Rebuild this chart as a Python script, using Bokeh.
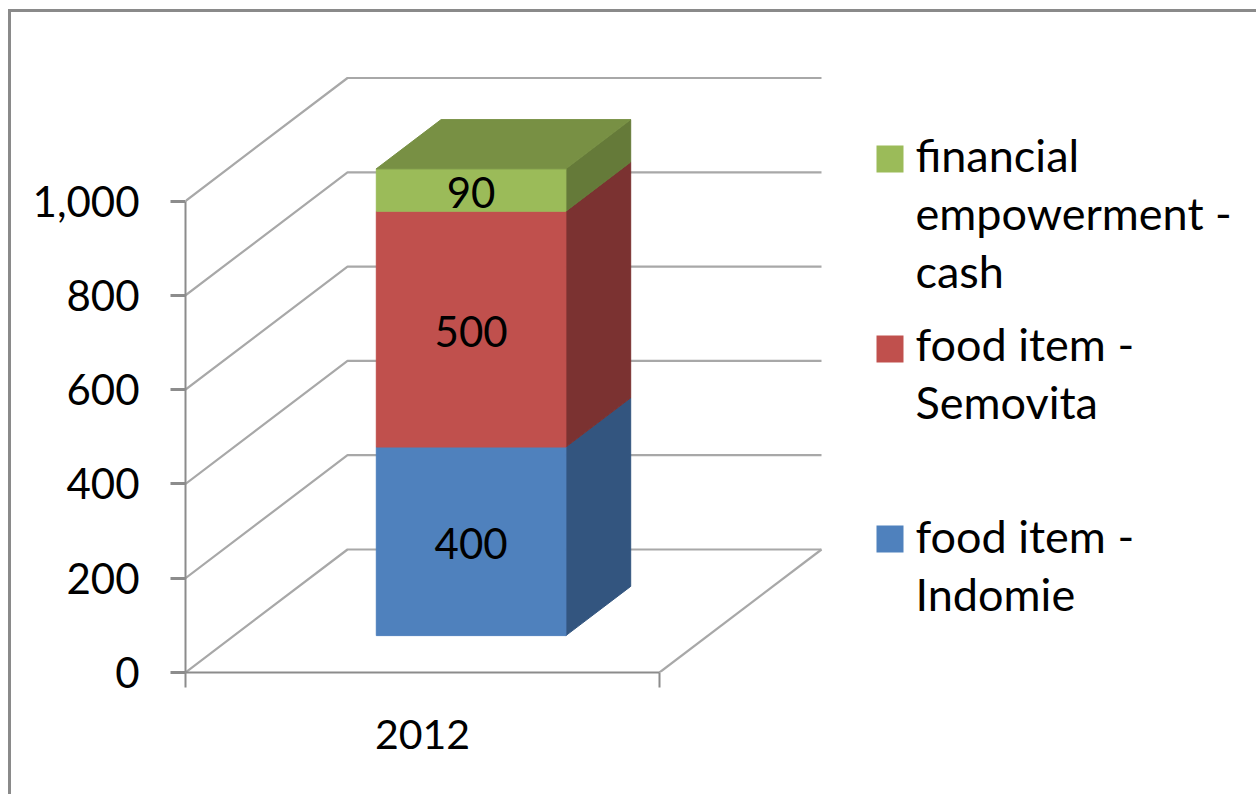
from bokeh.plotting import figure
from bokeh.embed import file_html
from bokeh.resources import INLINE
from bokeh.core.properties import value
from bokeh.models import FixedTicker, Range1d

# ---- data ----
categories = ["2012"]
series_names = ["food item - Indomie", "food item - Semovita", "financial empowerment - cash"]
series_values = [400, 500, 90]
front_colors = ["#4F81BD", "#C0504D", "#9BBB59"]
side_colors = ["#33557F", "#7B3231", "#657A39"]
top_color = "#789044"
y_ticks = [0, 200, 400, 600, 800, 1000]
y_labels = ["0", "200", "400", "600", "800", "1,000"]
legend_lines = [["financial", "empowerment -", "cash"], ["food item -", "Semovita"], ["food item -", "Indomie"]]

# ---- layout constants (page pixels) ----
X0, Y0 = 185, 672          # origin of the plot
UNIT_PX = 474              # px for one category
VAL_PX = 0.4715            # px per value unit
DEPTH_X_PX, DEPTH_Y_PX = 162, 123
W, H = 1256, 794
FONT = value("Lato")
FS = "42px"
LEG_FS = "45px"
AXIS = "#8C8C8C"
GRID = "#A8A8A8"
BORDER = "#8A8A8A"

# The outer chart border lies outside the plot frame, so it is the page element's own background.
border_css = (
    f"linear-gradient({BORDER},{BORDER}) 8px 9px / 3px {H - 9}px no-repeat, "
    f"linear-gradient({BORDER},{BORDER}) 8px 9px / {W - 8}px 3px no-repeat, white"
)

p = figure(width=W, height=H, output_backend="svg", toolbar_location=None,
           x_range=Range1d(0, (W - X0) / UNIT_PX), y_range=Range1d(0, Y0 / VAL_PX),
           min_border_left=X0, min_border_bottom=H - Y0, min_border_top=0, min_border_right=0,
           outline_line_color=None, background_fill_color=None, border_fill_color=None,
           styles={"background": border_css})
p.grid.visible = False

def px_x(px):
    return (px - X0) / UNIT_PX

def px_y(px):
    return (Y0 - px) / VAL_PX

def proj(x, v, d):
    """Oblique projection of (category x, value, depth 0..1) on the axes' data space."""
    return x + d * DEPTH_X_PX / UNIT_PX, v + d * DEPTH_Y_PX / VAL_PX

# axes
ax = p.yaxis[0]
ax.ticker = FixedTicker(ticks=y_ticks)
ax.major_label_overrides = {t: l for t, l in zip(y_ticks, y_labels)}
ax.bounds = (0, 1000)
ax.axis_line_color = AXIS
ax.axis_line_width = 2
ax.major_tick_line_color = AXIS
ax.major_tick_line_width = 3
ax.major_tick_in = 0
ax.major_tick_out = 15
ax.minor_tick_line_color = None
ax.major_label_standoff = 31
ax.major_label_text_font = "Lato"
ax.major_label_text_font_size = FS
ax.major_label_text_color = "black"

bx = p.xaxis[0]
bx.ticker = FixedTicker(ticks=[0.5], minor_ticks=[0, 1])
bx.major_label_overrides = {0.5: categories[0]}
bx.bounds = (0, 1)
bx.axis_line_color = AXIS
bx.axis_line_width = 2
bx.major_tick_line_color = None
bx.major_tick_in = 0
bx.major_tick_out = 0
bx.minor_tick_line_color = AXIS
bx.minor_tick_line_width = 2
bx.minor_tick_in = 0
bx.minor_tick_out = 15
bx.major_label_standoff = 32
bx.major_label_text_font = "Lato"
bx.major_label_text_font_size = "41px"
bx.major_label_text_color = "black"

# walls
xs, ys = [], []
for t in y_ticks:
    pts = [proj(0, t, 0), proj(0, t, 1), proj(1, t, 1)]
    xs.append([a for a, _ in pts])
    ys.append([b for _, b in pts])
pts = [proj(1, 0, 0), proj(1, 0, 1)]
xs.append([a for a, _ in pts])
ys.append([b for _, b in pts])
p.multi_line(xs, ys, line_color=GRID, line_width=2.2)

# 3D stacked bar
BAR_L, BAR_R, D_F, D_B = 0.3, 0.7, 0.3, 0.7

def quad(points, color):
    p.patch([a for a, _ in points], [b for _, b in points], fill_color=color, line_color=color, line_width=1)

base = 0
for val, fc, sc in zip(series_values, front_colors, side_colors):
    top = base + val
    quad([proj(BAR_R, base, D_F), proj(BAR_R, base, D_B), proj(BAR_R, top, D_B), proj(BAR_R, top, D_F)], sc)
    quad([proj(BAR_L, base, D_F), proj(BAR_R, base, D_F), proj(BAR_R, top, D_F), proj(BAR_L, top, D_F)], fc)
    base = top
quad([proj(BAR_L, base, D_F), proj(BAR_R, base, D_F), proj(BAR_R, base, D_B), proj(BAR_L, base, D_B)], top_color)

base = 0
for val in series_values:
    cx, cy = proj((BAR_L + BAR_R) / 2, base + val / 2, D_F)
    p.text([cx], [cy], text=[str(val)], text_font=FONT, text_font_size=FS, text_color="black",
           text_align="center", text_baseline="middle", y_offset=2)
    base += val

# legend
SWATCH_X = (876, 903)
swatch_tops = [145, 335, 525]
line_ys = [[154, 212, 270], [343, 401], [535, 593]]
legend_colors = [front_colors[2], front_colors[1], front_colors[0]]
for top_px, col, lines, ys_px in zip(swatch_tops, legend_colors, legend_lines, line_ys):
    p.quad(left=[px_x(SWATCH_X[0])], right=[px_x(SWATCH_X[1])], top=[px_y(top_px)], bottom=[px_y(top_px + 27)],
           fill_color=col, line_color=None)
    p.text([px_x(915)] * len(lines), [px_y(b) for b in ys_px], text=lines, text_font=FONT, text_font_size=LEG_FS,
           text_color="black", text_align="left", text_baseline="alphabetic")

open("out.html", "w").write(file_html(p, INLINE))
